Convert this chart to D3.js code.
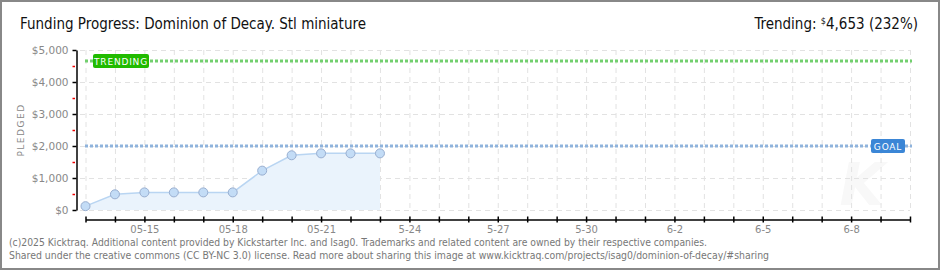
<!DOCTYPE html>
<html>
<head>
<meta charset="utf-8">
<script src="https://cdn.jsdelivr.net/npm/d3@7"></script>
<style>
  body { margin:0; background:#fff; }
  svg { display:block; }
  text { font-family: "DejaVu Sans", sans-serif; }
</style>
</head>
<body>
<div class="canvas"></div>
<script>
// data
var dates = ["2025-05-13","2025-05-14","2025-05-15","2025-05-16","2025-05-17","2025-05-18",
             "2025-05-19","2025-05-20","2025-05-21","2025-05-22","2025-05-23"];
var pledged = [120, 490, 550, 550, 550, 550, 1230, 1710, 1770, 1770, 1770];
var goal = 2000;
var trending = 4653;
var yTicks = [0, 1000, 2000, 3000, 4000, 5000];
var yMinorTicks = [500, 1500, 2500, 3500, 4500];
var xTickDates = ["2025-05-15","2025-05-18","2025-05-21","2025-05-24","2025-05-27","2025-05-30","2025-06-02","2025-06-05","2025-06-08"];
var xTickLabels = ["05-15","05-18","05-21","5-24","5-27","5-30","6-2","6-5","6-8"];

var W = 940, H = 270;
var parse = d3.utcParse("%Y-%m-%d");

var svg = d3.select('.canvas')
    .append('svg')
    .attr('width', W)
    .attr('height', H);

var x = d3.scaleUtc()
    .domain([parse("2025-05-13"), parse("2025-06-10")])
    .range([85.5, 910]);
var y = d3.scaleLinear()
    .domain([0, 5000])
    .range([210, 50]);

var allDays = d3.utcDay.range(parse("2025-05-13"), d3.utcDay.offset(parse("2025-06-10"), 1));

//border
svg.append('rect')
    .attr('x', 1).attr('y', 1).attr('width', W - 2).attr('height', H - 2)
    .attr('fill', '#fff').attr('stroke', '#888').attr('stroke-width', 2);

//faint watermark
svg.append('text')
    .attr('x', 862).attr('y', 205)
    .attr('text-anchor', 'middle')
    .style('font-size', '58px').style('font-style', 'italic').style('font-weight', 'bold')
    .attr('fill', '#f8f8f8')
    .text('K');

//grid
var grid = svg.append('g').attr('stroke', '#e2e2e2').attr('stroke-dasharray', '5,4');
grid.selectAll('line.v')
    .data(allDays)
    .enter()
    .append('line')
    .attr('x1', function(d){ return x(d) + 0.5 })
    .attr('x2', function(d){ return x(d) + 0.5 })
    .attr('y1', 50).attr('y2', 210);
grid.selectAll('line.h')
    .data(yTicks)
    .enter()
    .append('line')
    .attr('x1', 80).attr('x2', 910)
    .attr('y1', function(d){ return y(d) + 0.5 })
    .attr('y2', function(d){ return y(d) + 0.5 });

//area + line
var pts = dates.map(function(d, i){ return {date: parse(d), v: pledged[i]}; });
svg.append('path')
    .datum(pts)
    .attr('fill', '#eaf3fc')
    .attr('d', d3.area().x(function(d){ return x(d.date) }).y0(y(0)).y1(function(d){ return y(d.v) }));
svg.append('path')
    .datum(pts)
    .attr('fill', 'none')
    .attr('stroke', '#b9d5f2')
    .attr('stroke-width', 1.5)
    .attr('d', d3.line().x(function(d){ return x(d.date) }).y(function(d){ return y(d.v) }));

//goal + trending lines
svg.append('line')
    .attr('x1', 85).attr('x2', 912)
    .attr('y1', y(goal)).attr('y2', y(goal))
    .attr('stroke', '#8fb3dc').attr('stroke-width', 3).attr('stroke-dasharray', '3,2');
svg.append('line')
    .attr('x1', 85).attr('x2', 912)
    .attr('y1', y(trending)).attr('y2', y(trending))
    .attr('stroke', '#72cf6e').attr('stroke-width', 3).attr('stroke-dasharray', '3,2');

//points
svg.selectAll('circle')
    .data(pts)
    .enter()
    .append('circle')
    .attr('cx', function(d){ return x(d.date) })
    .attr('cy', function(d){ return y(d.v) })
    .attr('r', 4.5)
    .attr('fill', '#c3dcf6')
    .attr('stroke', '#98aed0')
    .attr('stroke-width', 1);

//labels on lines
svg.append('rect')
    .attr('x', 93).attr('y', y(trending) - 7).attr('width', 56).attr('height', 14).attr('rx', 2)
    .attr('fill', '#21bb00');
svg.append('text')
    .attr('x', 121).attr('y', y(trending) + 3.5)
    .attr('text-anchor', 'middle').attr('fill', '#fff')
    .style('font-size', '9px').style('letter-spacing', '0.8px')
    .text('TRENDING');
svg.append('rect')
    .attr('x', 871).attr('y', y(goal) - 7).attr('width', 34).attr('height', 14).attr('rx', 2)
    .attr('fill', '#3b86d6');
svg.append('text')
    .attr('x', 888).attr('y', y(goal) + 3.5)
    .attr('text-anchor', 'middle').attr('fill', '#fff')
    .style('font-size', '9px').style('letter-spacing', '0.8px')
    .text('GOAL');

//y axis
var yAxis = svg.append('g')
    .attr('transform', 'translate(76.5,0)')
    .call(d3.axisLeft(y).tickValues(yTicks.concat(yMinorTicks)).tickSize(4).tickSizeOuter(0)
        .tickFormat(function(d){ return d % 1000 === 0 ? '$' + d3.format(',')(d) : ''; }));
yAxis.select('.domain').attr('stroke', '#000').attr('stroke-width', 1.5);
yAxis.selectAll('.tick line')
    .attr('x1', function(d){ return d % 1000 === 0 ? 0 : -1.5 })
    .attr('stroke', function(d){ return d % 1000 === 0 ? '#000' : '#e00' })
    .attr('stroke-width', 1.5);
yAxis.selectAll('.tick text')
    .attr('x', -8).attr('fill', '#888')
    .style('font-family', '"DejaVu Sans", sans-serif').style('font-size', '10.5px');

svg.append('text')
    .attr('transform', 'translate(24,130) rotate(-90)')
    .attr('text-anchor', 'middle').attr('fill', '#888')
    .style('font-size', '9px').style('letter-spacing', '1.5px')
    .text('PLEDGED');

//x axis
var labelMap = {};
xTickDates.forEach(function(d, i){ labelMap[d] = xTickLabels[i]; });
var fmt = d3.utcFormat("%Y-%m-%d");
var xAxis = svg.append('g')
    .attr('transform', 'translate(0,219.5)')
    .call(d3.axisBottom(x).tickValues(allDays).tickSize(3).tickSizeOuter(0)
        .tickFormat(function(d){ return labelMap[fmt(d)] || ''; }));
xAxis.select('.domain').attr('stroke', '#000').attr('stroke-width', 1.5);
xAxis.selectAll('.tick line').attr('y1', -3).attr('y2', 3).attr('stroke', '#000').attr('stroke-width', 1.5);
xAxis.selectAll('.tick text')
    .attr('y', 6).attr('fill', '#888')
    .style('font-family', '"DejaVu Sans", sans-serif').style('font-size', '10px');

//title
svg.append('text')
    .attr('x', 20).attr('y', 29)
    .attr('fill', '#111')
    .attr('textLength', 346).attr('lengthAdjust', 'spacingAndGlyphs')
    .style('font-family', '"DejaVu Sans Condensed", "DejaVu Sans", sans-serif').style('font-size', '15px')
    .text('Funding Progress: Dominion of Decay. Stl miniature');

var tr = svg.append('text')
    .attr('x', 918).attr('y', 29)
    .attr('text-anchor', 'end').attr('fill', '#111')
    .style('font-family', '"DejaVu Sans Condensed", "DejaVu Sans", sans-serif').style('font-size', '15px');
tr.append('tspan').text('Trending:  ');
tr.append('tspan').style('font-size', '9px').attr('dy', -5).text('$');
tr.append('tspan').attr('dy', 5).text(d3.format(',')(trending) + ' (' + Math.floor(trending / goal * 100) + '%)');

//footer
var footer = [
  "(c)2025 Kicktraq. Additional content provided by Kickstarter Inc. and Isag0. Trademarks and related content are owned by their respective companies.",
  "Shared under the creative commons (CC BY-NC 3.0) license. Read more about sharing this image at www.kicktraq.com/projects/isag0/dominion-of-decay/#sharing"
];
var footerW = [698, 760];
svg.selectAll('text.footer')
    .data(footer)
    .enter()
    .append('text')
    .attr('class', 'footer')
    .attr('x', 9)
    .attr('y', function(d, i){ return 246 + i * 13 })
    .attr('fill', '#777')
    .attr('textLength', function(d, i){ return footerW[i] })
    .attr('lengthAdjust', 'spacingAndGlyphs')
    .style('font-family', '"DejaVu Sans Condensed", "DejaVu Sans", sans-serif').style('font-size', '10px')
    .text(function(d){ return d });
</script>
</body>
</html>
